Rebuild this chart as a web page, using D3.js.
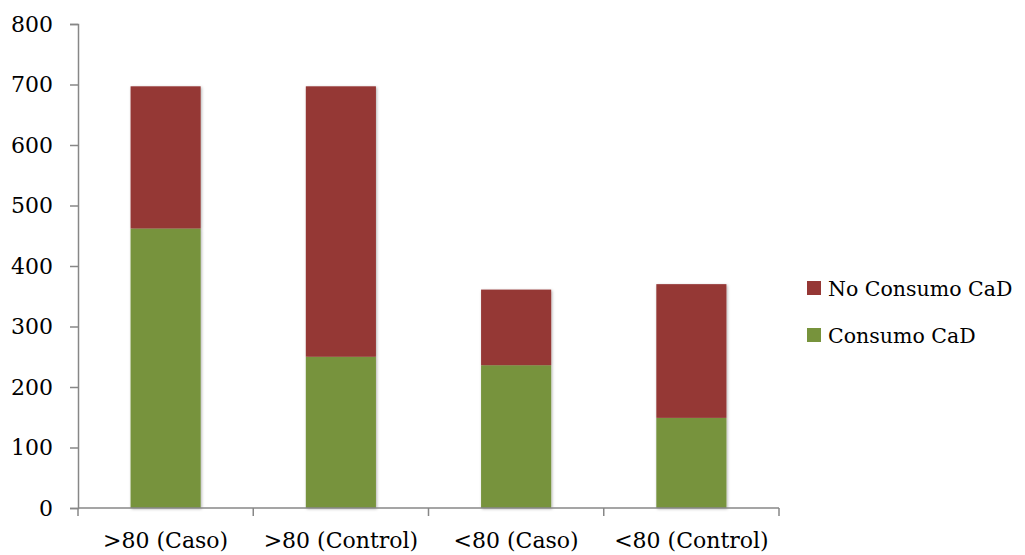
<!DOCTYPE html>
<html>
<head>
<meta charset="utf-8">
<script src="https://cdn.jsdelivr.net/npm/d3@7"></script>
<style>
  html, body { margin: 0; padding: 0; background: #fff; }
  svg { display: block; }
  text { font-family: "DejaVu Serif", "Liberation Serif", serif; fill: #000; }
</style>
</head>
<body>
<svg id="chart" width="1025" height="555"></svg>
<script>
// Categories and stacked series
const categories = [">80 (Caso)", ">80 (Control)", "<80 (Caso)", "<80 (Control)"];
const consumo = [462, 250, 236, 149];
const noConsumo = [235, 447, 125, 221];
const seriesNames = ["Consumo CaD", "No Consumo CaD"];
const yTicks = [0, 100, 200, 300, 400, 500, 600, 700, 800];

const colors = { "Consumo CaD": "#77933C", "No Consumo CaD": "#953735" };
const fontFamily = "DejaVu Serif, Liberation Serif, serif";

const svg = d3.select("#chart");
const margin = { left: 78, right: 246, top: 24, bottom: 47 };
const W = 1025, H = 555;

const x = d3.scaleBand()
  .domain(categories)
  .range([margin.left, W - margin.right])
  .paddingInner(0.6)
  .paddingOuter(0.3);

const y = d3.scaleLinear()
  .domain([0, 800])
  .range([H - margin.bottom, margin.top]);

const rows = categories.map((c, i) => ({
  cat: c,
  "Consumo CaD": consumo[i],
  "No Consumo CaD": noConsumo[i]
}));
const stacked = d3.stack().keys(seriesNames)(rows);

// soft shadow behind bars
const defs = svg.append("defs");
const f = defs.append("filter").attr("id", "shadow")
  .attr("x", "-20%").attr("y", "-20%").attr("width", "140%").attr("height", "140%");
f.append("feDropShadow").attr("dx", 1).attr("dy", 1).attr("stdDeviation", 1.5)
  .attr("flood-color", "#000").attr("flood-opacity", 0.3);

const barsG = svg.append("g").attr("filter", "url(#shadow)");
stacked.forEach(layer => {
  barsG.append("g")
    .attr("fill", colors[layer.key])
    .selectAll("rect")
    .data(layer)
    .join("rect")
    .attr("x", d => x(d.data.cat))
    .attr("width", x.bandwidth())
    .attr("y", d => y(d[1]))
    .attr("height", d => y(d[0]) - y(d[1]));
});

// Y axis
const axisColor = "#878787";
const yAxis = svg.append("g")
  .attr("transform", `translate(${margin.left},0)`)
  .call(d3.axisLeft(y).tickValues(yTicks).tickSize(8).tickPadding(17));
yAxis.select(".domain").attr("stroke", axisColor).attr("stroke-width", 1.5);
yAxis.selectAll(".tick line").attr("stroke", axisColor).attr("stroke-width", 1.5);
yAxis.selectAll(".tick text")
  .attr("font-family", fontFamily)
  .attr("font-size", 22).attr("fill", "#000");

// X axis with ticks at category boundaries
const x0 = margin.left, x1 = W - margin.right;
const bandStep = (x1 - x0) / categories.length;
const gx = svg.append("g");
gx.append("line")
  .attr("x1", x0).attr("x2", x1)
  .attr("y1", y(0)).attr("y2", y(0))
  .attr("stroke", axisColor).attr("stroke-width", 1.5);
gx.selectAll("line.tk")
  .data(d3.range(categories.length + 1))
  .join("line")
  .attr("class", "tk")
  .attr("x1", i => x0 + i * bandStep).attr("x2", i => x0 + i * bandStep)
  .attr("y1", y(0)).attr("y2", y(0) + 8)
  .attr("stroke", axisColor).attr("stroke-width", 1.5);
gx.selectAll("text")
  .data(categories)
  .join("text")
  .attr("x", d => x(d) + x.bandwidth() / 2)
  .attr("y", y(0) + 40)
  .attr("text-anchor", "middle")
  .attr("font-size", 22)
  .text(d => d);

// Legend
const legendItems = ["No Consumo CaD", "Consumo CaD"];
const lg = svg.append("g");
legendItems.forEach((name, i) => {
  const yy = 281 + i * 47;
  lg.append("rect")
    .attr("x", 807).attr("y", yy)
    .attr("width", 14).attr("height", 14)
    .attr("fill", colors[name]);
  lg.append("text")
    .attr("x", 828).attr("y", yy + 15)
    .attr("font-size", 20.5)
    .text(name);
});
</script>
</body>
</html>
